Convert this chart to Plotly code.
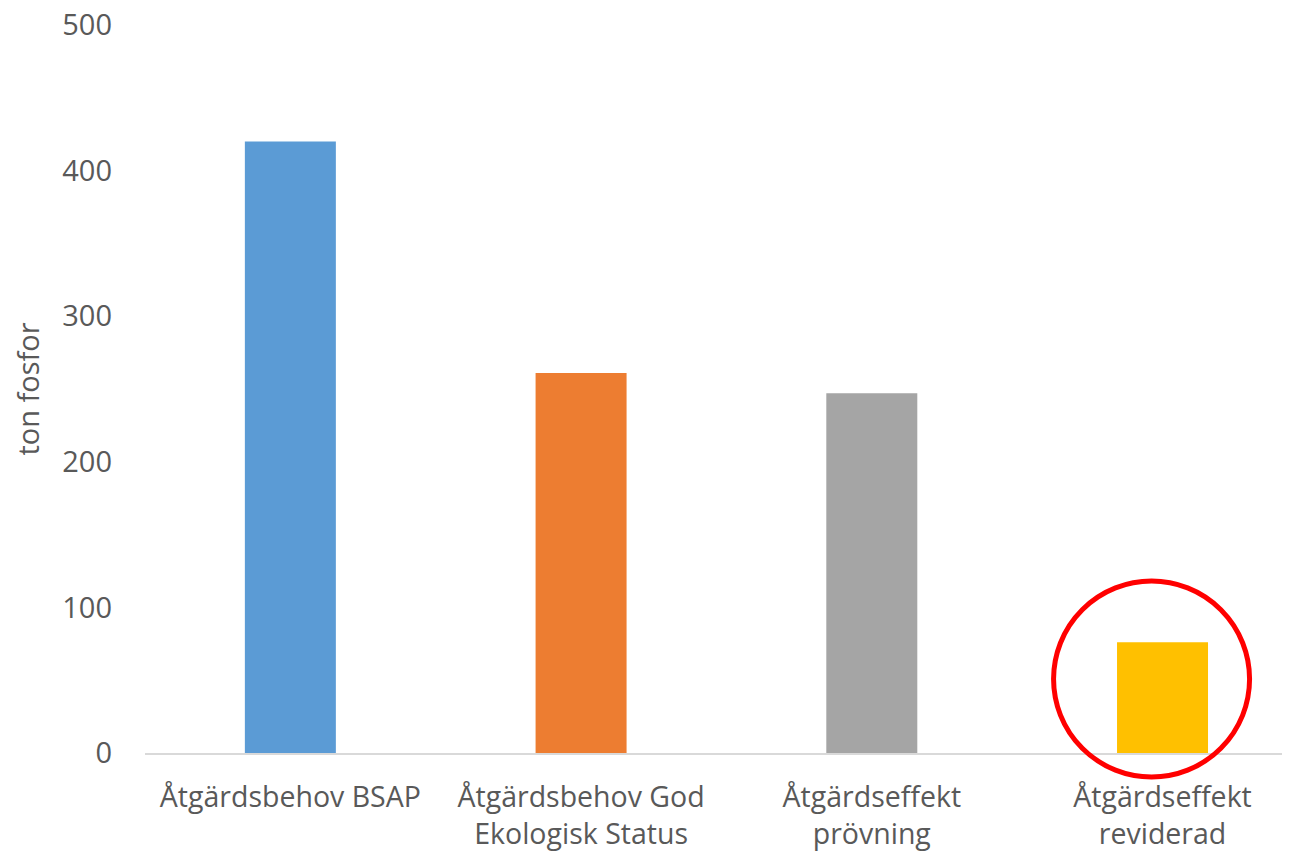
import plotly.graph_objects as go

categories = ["Åtgärdsbehov BSAP", "Åtgärdsbehov God<br>Ekologisk Status",
              "Åtgärdseffekt<br>prövning", "Åtgärdseffekt<br>reviderad"]
values = [420, 261, 247, 76]
bar_colors = ["#5B9BD5", "#ED7D31", "#A5A5A5", "#FFC000"]
y_ticks = [0, 100, 200, 300, 400, 500]

text_color = "#595959"
font_family = "Open Sans, Noto Sans, sans-serif"

fig = go.Figure(go.Bar(
    x=categories,
    y=values,
    marker_color=bar_colors,
    marker_line_width=0,
    width=0.313,
))

# red ring around the last bar (paper refs so it is not clipped at the axis)
fig.add_shape(
    type="circle",
    xref="paper", yref="paper",
    x0=0.873 - 0.085, x1=0.873 + 0.085,
    y0=0.1016 - 0.1346, y1=0.1016 + 0.1346,
    line=dict(color="#FF0000", width=5),
    layer="above",
)

fig.update_layout(
    width=1290,
    height=853,
    plot_bgcolor="white",
    paper_bgcolor="white",
    font=dict(family=font_family, size=29, color=text_color),
    margin=dict(l=137, r=0, t=17, b=108),
    showlegend=False,
    xaxis=dict(
        range=[-0.5, 3.466],
        automargin=False,
        showline=True,
        linecolor="#D9D9D9",
        linewidth=1.5,
        ticks="outside",
        ticklen=18,
        tickcolor="rgba(0,0,0,0)",
        tickfont=dict(size=28.5, color=text_color),
    ),
    yaxis=dict(
        range=[0, 500],
        automargin=False,
        tickvals=y_ticks,
        showgrid=False,
        zeroline=False,
        showline=False,
        ticks="",
        ticklabelstandoff=32,
        ticklabeloverflow="allow",
        tickfont=dict(size=29, color=text_color),
        title=dict(text="ton fosfor", font=dict(size=29, color=text_color), standoff=42),
    ),
)

fig.write_html("out.html")
